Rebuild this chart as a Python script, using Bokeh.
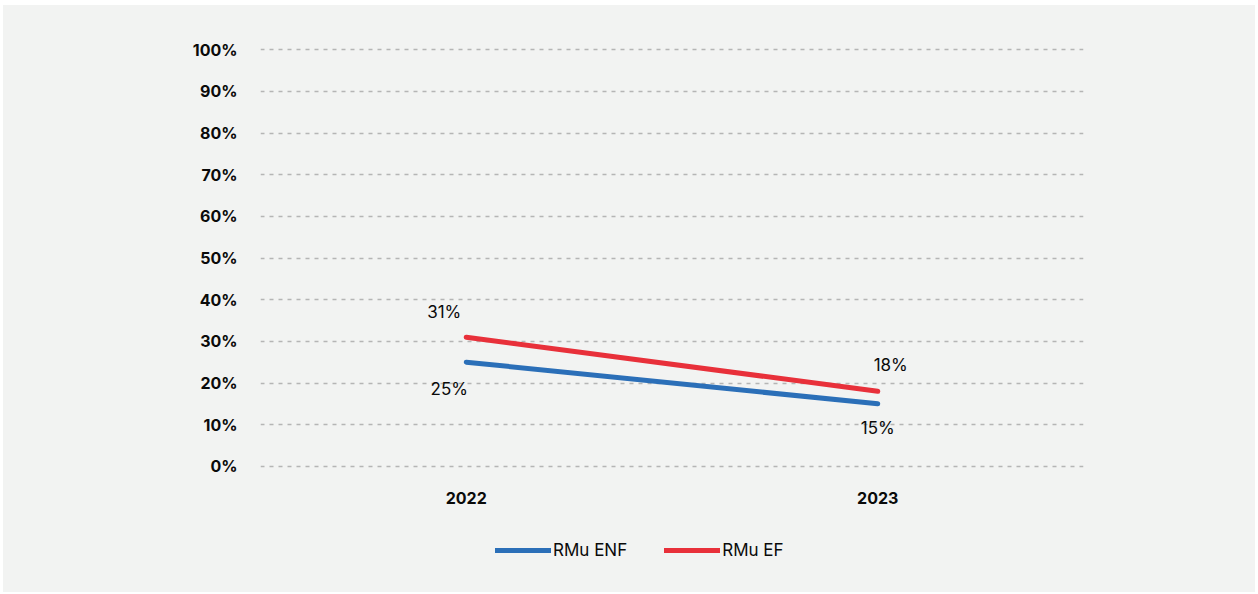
from bokeh.plotting import figure
from bokeh.layouts import column
from bokeh.models import FactorRange, Range1d, ColumnDataSource, Legend, LegendItem, FixedTicker, CustomJSTickFormatter
from bokeh.core.properties import value
from bokeh.embed import file_html
from bokeh.resources import INLINE

years = ["2022", "2023"]
enf = [25, 15]
ef = [31, 18]
enf_labels = ["25%", "15%"]
ef_labels = ["31%", "18%"]
y_ticks = [0, 10, 20, 30, 40, 50, 60, 70, 80, 90, 100]
series_names = ["RMu ENF", "RMu EF"]

BLUE = "#2b6fb8"
RED = "#e8303a"
BG = "#f2f3f2"
FONT = "Inter"
TXT = "#0a0a0a"

p = figure(
    width=1252, height=515,
    x_range=FactorRange(*years, range_padding=0),
    y_range=Range1d(-1, 101),
    output_backend="svg", toolbar_location=None,
    min_border_left=257, min_border_right=172,
    min_border_top=40, min_border_bottom=50,
)
p.background_fill_alpha = 0
p.border_fill_color = BG
p.outline_line_color = None

src_enf = ColumnDataSource(dict(x=years, y=enf, t=enf_labels))
src_ef = ColumnDataSource(dict(x=years, y=ef, t=ef_labels))

p.line("x", "y", source=src_enf, color=BLUE, line_width=5, line_cap="round")
p.line("x", "y", source=src_ef, color=RED, line_width=5, line_cap="round")

# data labels
lab = dict(text_align="center", text_baseline="middle", text_font=value(FONT),
           text_font_size="17px", text_color=TXT)
p.text(x=[years[0]], y=[ef[0]], text=[ef_labels[0]], x_offset=-22, y_offset=-25, **lab)
p.text(x=[years[1]], y=[ef[1]], text=[ef_labels[1]], x_offset=13, y_offset=-26, **lab)
p.text(x=[years[0]], y=[enf[0]], text=[enf_labels[0]], x_offset=-17, y_offset=27, **lab)
p.text(x=[years[1]], y=[enf[1]], text=[enf_labels[1]], x_offset=0, y_offset=24, **lab)

p.xgrid.grid_line_color = None
p.ygrid.grid_line_color = "#b5b5b5"
p.ygrid.grid_line_dash = "4 5"
p.ygrid.grid_line_width = 1.5

p.yaxis.ticker = FixedTicker(ticks=y_ticks)
p.yaxis.formatter = CustomJSTickFormatter(code="return tick + '%';")
for ax in (p.xaxis[0], p.yaxis[0]):
    ax.axis_line_color = None
    ax.major_tick_line_color = None
    ax.minor_tick_line_color = None
    ax.major_label_text_font = FONT
    ax.major_label_text_font_style = "bold"
    ax.major_label_text_font_size = "16px"
    ax.major_label_text_color = TXT
p.yaxis.major_label_standoff = 17
p.xaxis.major_label_standoff = 15

# legend strip below the chart (its frame is aligned with the chart's frame)
lf = figure(width=1252, height=72, x_range=Range1d(0, 1), y_range=Range1d(0, 1),
            output_backend="svg", toolbar_location=None,
            min_border_left=257, min_border_right=172, min_border_top=0, min_border_bottom=0)
lf.axis.visible = False
lf.grid.visible = False
lf.outline_line_color = None
lf.background_fill_alpha = 0
lf.border_fill_color = BG
# legend-only renderers, placed outside the visible range
l1 = lf.line(x=[-5, -4], y=[-5, -5], color=BLUE, line_width=5, line_cap="round")
l2 = lf.line(x=[-5, -4], y=[-5, -5], color=RED, line_width=5, line_cap="round")

legend = Legend(items=[
    LegendItem(label=series_names[0], renderers=[l1]),
    LegendItem(label=series_names[1], renderers=[l2]),
], orientation="horizontal", location=(235, 32))
legend.background_fill_alpha = 0
legend.border_line_color = None
legend.glyph_width = 56
legend.glyph_height = 20
legend.label_standoff = 2
legend.spacing = 37
legend.label_text_font = FONT
legend.label_text_font_size = "17px"
legend.label_text_color = TXT
legend.margin = 0
legend.padding = 0
lf.add_layout(legend, "center")

layout = column(p, lf, spacing=0)
layout.margin = (5, 3, 2, 3)
layout.styles = {"background-color": BG}

open("out.html", "w").write(file_html(layout, INLINE))
